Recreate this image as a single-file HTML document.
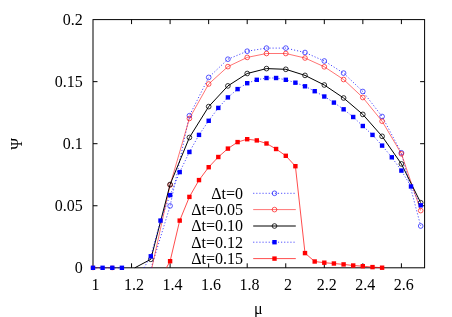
<!DOCTYPE html>
<html><head><meta charset="utf-8"><title>plot</title><style>html,body{margin:0;padding:0;background:#fff;overflow:hidden}svg{display:block;will-change:transform}</style></head><body>
<svg width="452" height="317" viewBox="0 0 452 317">
<rect width="452" height="317" fill="#fff"/>
<g stroke="#000" stroke-width="1" fill="none">
<rect x="93.0" y="19.6" width="331.6" height="248.20000000000002"/>
<path d="M131.55,267.8v-4.5M131.55,19.6v4.5"/>
<path d="M170.10,267.8v-4.5M170.10,19.6v4.5"/>
<path d="M208.65,267.8v-4.5M208.65,19.6v4.5"/>
<path d="M247.20,267.8v-4.5M247.20,19.6v4.5"/>
<path d="M285.75,267.8v-4.5M285.75,19.6v4.5"/>
<path d="M324.30,267.8v-4.5M324.30,19.6v4.5"/>
<path d="M362.85,267.8v-4.5M362.85,19.6v4.5"/>
<path d="M401.40,267.8v-4.5M401.40,19.6v4.5"/>
<path d="M93.0,205.75h4.5M424.6,205.75h-4.5"/>
<path d="M93.0,143.70h4.5M424.6,143.70h-4.5"/>
<path d="M93.0,81.65h4.5M424.6,81.65h-4.5"/>
</g>
<g font-family="Liberation Serif, serif" font-size="16px" fill="#000">
<text x="82.7" y="273.2" text-anchor="end">0</text>
<text x="82.7" y="211.2" text-anchor="end">0.05</text>
<text x="82.7" y="149.1" text-anchor="end">0.1</text>
<text x="82.7" y="87.1" text-anchor="end">0.15</text>
<text x="82.7" y="25.0" text-anchor="end">0.2</text>
<text x="95.4" y="290" text-anchor="middle">1</text>
<text x="133.9" y="290" text-anchor="middle">1.2</text>
<text x="172.5" y="290" text-anchor="middle">1.4</text>
<text x="211.1" y="290" text-anchor="middle">1.6</text>
<text x="249.6" y="290" text-anchor="middle">1.8</text>
<text x="288.1" y="290" text-anchor="middle">2</text>
<text x="326.7" y="290" text-anchor="middle">2.2</text>
<text x="365.3" y="290" text-anchor="middle">2.4</text>
<text x="403.8" y="290" text-anchor="middle">2.6</text>
<text x="258.4" y="313.8" text-anchor="middle">μ</text>
<text transform="translate(22.2,143.8) rotate(-90)" text-anchor="middle">Ψ</text>
<text x="243" y="198.6" text-anchor="end">Δt=0</text>
<text x="243" y="214.9" text-anchor="end">Δt=0.05</text>
<text x="243" y="231.3" text-anchor="end">Δt=0.10</text>
<text x="243" y="247.5" text-anchor="end">Δt=0.12</text>
<text x="243" y="263.9" text-anchor="end">Δt=0.15</text>
</g>
<polyline points="151.2,267.8 170.1,205.9 189.4,115.7 208.7,77.4 227.9,59.2 247.2,51.2 266.5,48.1 285.8,48.1 305.0,52.5 324.3,61.0 343.6,73.1 362.8,91.5 382.1,116.5 401.4,152.8 420.7,226.0" fill="none" stroke="#0000ff" stroke-width="0.75" stroke-dasharray="1.1 2.0"/>
<circle cx="170.1" cy="205.9" r="2.35" fill="none" stroke="#0000ff" stroke-width="0.65"/><circle cx="189.4" cy="115.7" r="2.35" fill="none" stroke="#0000ff" stroke-width="0.65"/><circle cx="208.7" cy="77.4" r="2.35" fill="none" stroke="#0000ff" stroke-width="0.65"/><circle cx="227.9" cy="59.2" r="2.35" fill="none" stroke="#0000ff" stroke-width="0.65"/><circle cx="247.2" cy="51.2" r="2.35" fill="none" stroke="#0000ff" stroke-width="0.65"/><circle cx="266.5" cy="48.1" r="2.35" fill="none" stroke="#0000ff" stroke-width="0.65"/><circle cx="285.8" cy="48.1" r="2.35" fill="none" stroke="#0000ff" stroke-width="0.65"/><circle cx="305.0" cy="52.5" r="2.35" fill="none" stroke="#0000ff" stroke-width="0.65"/><circle cx="324.3" cy="61.0" r="2.35" fill="none" stroke="#0000ff" stroke-width="0.65"/><circle cx="343.6" cy="73.1" r="2.35" fill="none" stroke="#0000ff" stroke-width="0.65"/><circle cx="362.8" cy="91.5" r="2.35" fill="none" stroke="#0000ff" stroke-width="0.65"/><circle cx="382.1" cy="116.5" r="2.35" fill="none" stroke="#0000ff" stroke-width="0.65"/><circle cx="401.4" cy="152.8" r="2.35" fill="none" stroke="#0000ff" stroke-width="0.65"/><circle cx="420.7" cy="226.0" r="2.35" fill="none" stroke="#0000ff" stroke-width="0.65"/>
<polyline points="151.9,267.8 170.1,185.0 189.4,118.5 208.7,84.0 227.9,66.6 247.2,57.4 266.5,53.5 285.8,53.5 305.0,58.0 324.3,66.8 343.6,79.5 362.8,97.5 382.1,121.2 401.4,153.8 420.7,210.6" fill="none" stroke="#ff0000" stroke-width="0.55"/>
<circle cx="170.1" cy="185.0" r="2.35" fill="none" stroke="#ff0000" stroke-width="0.65"/><circle cx="189.4" cy="118.5" r="2.35" fill="none" stroke="#ff0000" stroke-width="0.65"/><circle cx="208.7" cy="84.0" r="2.35" fill="none" stroke="#ff0000" stroke-width="0.65"/><circle cx="227.9" cy="66.6" r="2.35" fill="none" stroke="#ff0000" stroke-width="0.65"/><circle cx="247.2" cy="57.4" r="2.35" fill="none" stroke="#ff0000" stroke-width="0.65"/><circle cx="266.5" cy="53.5" r="2.35" fill="none" stroke="#ff0000" stroke-width="0.65"/><circle cx="285.8" cy="53.5" r="2.35" fill="none" stroke="#ff0000" stroke-width="0.65"/><circle cx="305.0" cy="58.0" r="2.35" fill="none" stroke="#ff0000" stroke-width="0.65"/><circle cx="324.3" cy="66.8" r="2.35" fill="none" stroke="#ff0000" stroke-width="0.65"/><circle cx="343.6" cy="79.5" r="2.35" fill="none" stroke="#ff0000" stroke-width="0.65"/><circle cx="362.8" cy="97.5" r="2.35" fill="none" stroke="#ff0000" stroke-width="0.65"/><circle cx="382.1" cy="121.2" r="2.35" fill="none" stroke="#ff0000" stroke-width="0.65"/><circle cx="401.4" cy="153.8" r="2.35" fill="none" stroke="#ff0000" stroke-width="0.65"/><circle cx="420.7" cy="210.6" r="2.35" fill="none" stroke="#ff0000" stroke-width="0.65"/>
<polyline points="134.8,267.8 150.8,259.3 170.1,184.5 189.4,137.5 208.7,106.6 227.9,85.9 247.2,73.5 266.5,68.6 285.8,69.3 305.0,75.4 324.3,85.0 343.6,98.0 362.8,114.4 382.1,136.3 401.4,163.9 420.7,202.7" fill="none" stroke="#000000" stroke-width="1"/>
<circle cx="150.8" cy="259.3" r="2.35" fill="none" stroke="#000000" stroke-width="0.8"/><circle cx="170.1" cy="184.5" r="2.35" fill="none" stroke="#000000" stroke-width="0.8"/><circle cx="189.4" cy="137.5" r="2.35" fill="none" stroke="#000000" stroke-width="0.8"/><circle cx="208.7" cy="106.6" r="2.35" fill="none" stroke="#000000" stroke-width="0.8"/><circle cx="227.9" cy="85.9" r="2.35" fill="none" stroke="#000000" stroke-width="0.8"/><circle cx="247.2" cy="73.5" r="2.35" fill="none" stroke="#000000" stroke-width="0.8"/><circle cx="266.5" cy="68.6" r="2.35" fill="none" stroke="#000000" stroke-width="0.8"/><circle cx="285.8" cy="69.3" r="2.35" fill="none" stroke="#000000" stroke-width="0.8"/><circle cx="305.0" cy="75.4" r="2.35" fill="none" stroke="#000000" stroke-width="0.8"/><circle cx="324.3" cy="85.0" r="2.35" fill="none" stroke="#000000" stroke-width="0.8"/><circle cx="343.6" cy="98.0" r="2.35" fill="none" stroke="#000000" stroke-width="0.8"/><circle cx="362.8" cy="114.4" r="2.35" fill="none" stroke="#000000" stroke-width="0.8"/><circle cx="382.1" cy="136.3" r="2.35" fill="none" stroke="#000000" stroke-width="0.8"/><circle cx="401.4" cy="163.9" r="2.35" fill="none" stroke="#000000" stroke-width="0.8"/><circle cx="420.7" cy="202.7" r="2.35" fill="none" stroke="#000000" stroke-width="0.8"/>
<path d="M93.0,267.8H112.3" stroke="#ff0000" stroke-width="0.55" fill="none" opacity="0.4"/>
<g opacity="0.5"><circle cx="93.0" cy="267.8" r="2.2" fill="none" stroke="#ff0000" stroke-width="0.65"/><circle cx="112.3" cy="267.8" r="2.2" fill="none" stroke="#ff0000" stroke-width="0.65"/></g>
<polyline points="93.0,267.8 102.6,267.8 112.3,267.8 121.9,267.8" fill="none" stroke="#0000ff" stroke-width="0.75" stroke-dasharray="1.1 2.0"/>
<polyline points="144.0,267.8 150.8,256.3 160.5,220.6 170.1,195.1 179.7,172.1 189.4,152.0 199.0,134.9 208.7,120.8 218.3,107.9 227.9,97.4 237.6,89.1 247.2,83.2 256.8,79.8 266.5,78.0 276.1,78.0 285.8,79.8 295.4,82.7 305.0,86.3 314.7,91.2 324.3,96.5 333.9,102.6 343.6,109.3 353.2,117.0 362.8,126.0 372.5,134.9 382.1,145.6 391.8,157.3 401.4,170.6 411.0,186.5 420.7,205.3" fill="none" stroke="#0000ff" stroke-width="0.75" stroke-dasharray="1.1 2.0"/>
<rect x="90.8" y="265.6" width="4.4" height="4.4" fill="#0000ff"/><rect x="100.4" y="265.6" width="4.4" height="4.4" fill="#0000ff"/><rect x="110.1" y="265.6" width="4.4" height="4.4" fill="#0000ff"/><rect x="119.7" y="265.6" width="4.4" height="4.4" fill="#0000ff"/><rect x="148.6" y="254.1" width="4.4" height="4.4" fill="#0000ff"/><rect x="158.3" y="218.4" width="4.4" height="4.4" fill="#0000ff"/><rect x="167.9" y="192.9" width="4.4" height="4.4" fill="#0000ff"/><rect x="177.5" y="169.9" width="4.4" height="4.4" fill="#0000ff"/><rect x="187.2" y="149.8" width="4.4" height="4.4" fill="#0000ff"/><rect x="196.8" y="132.7" width="4.4" height="4.4" fill="#0000ff"/><rect x="206.5" y="118.6" width="4.4" height="4.4" fill="#0000ff"/><rect x="216.1" y="105.7" width="4.4" height="4.4" fill="#0000ff"/><rect x="225.7" y="95.2" width="4.4" height="4.4" fill="#0000ff"/><rect x="235.4" y="86.9" width="4.4" height="4.4" fill="#0000ff"/><rect x="245.0" y="81.0" width="4.4" height="4.4" fill="#0000ff"/><rect x="254.6" y="77.6" width="4.4" height="4.4" fill="#0000ff"/><rect x="264.3" y="75.8" width="4.4" height="4.4" fill="#0000ff"/><rect x="273.9" y="75.8" width="4.4" height="4.4" fill="#0000ff"/><rect x="283.6" y="77.6" width="4.4" height="4.4" fill="#0000ff"/><rect x="293.2" y="80.5" width="4.4" height="4.4" fill="#0000ff"/><rect x="302.8" y="84.1" width="4.4" height="4.4" fill="#0000ff"/><rect x="312.5" y="89.0" width="4.4" height="4.4" fill="#0000ff"/><rect x="322.1" y="94.3" width="4.4" height="4.4" fill="#0000ff"/><rect x="331.7" y="100.4" width="4.4" height="4.4" fill="#0000ff"/><rect x="341.4" y="107.1" width="4.4" height="4.4" fill="#0000ff"/><rect x="351.0" y="114.8" width="4.4" height="4.4" fill="#0000ff"/><rect x="360.6" y="123.8" width="4.4" height="4.4" fill="#0000ff"/><rect x="370.3" y="132.7" width="4.4" height="4.4" fill="#0000ff"/><rect x="379.9" y="143.4" width="4.4" height="4.4" fill="#0000ff"/><rect x="389.6" y="155.1" width="4.4" height="4.4" fill="#0000ff"/><rect x="399.2" y="168.4" width="4.4" height="4.4" fill="#0000ff"/><rect x="408.8" y="184.3" width="4.4" height="4.4" fill="#0000ff"/><rect x="418.5" y="203.1" width="4.4" height="4.4" fill="#0000ff"/>
<polyline points="166.4,267.8 170.1,261.2 179.7,220.6 189.4,196.9 199.0,180.1 208.7,167.2 218.3,157.0 227.9,148.6 237.6,142.1 247.2,139.2 256.8,140.4 266.5,143.5 276.1,149.0 285.8,155.8 295.4,166.2 305.0,253.1 314.7,261.5 324.3,262.7 333.9,263.5 343.6,264.4 353.2,265.5 362.8,266.2 372.5,267.1 382.1,267.7" fill="none" stroke="#ff0000" stroke-width="0.7"/>
<rect x="167.9" y="259.0" width="4.4" height="4.4" fill="#ff0000"/><rect x="177.5" y="218.4" width="4.4" height="4.4" fill="#ff0000"/><rect x="187.2" y="194.7" width="4.4" height="4.4" fill="#ff0000"/><rect x="196.8" y="177.9" width="4.4" height="4.4" fill="#ff0000"/><rect x="206.5" y="165.0" width="4.4" height="4.4" fill="#ff0000"/><rect x="216.1" y="154.8" width="4.4" height="4.4" fill="#ff0000"/><rect x="225.7" y="146.4" width="4.4" height="4.4" fill="#ff0000"/><rect x="235.4" y="139.9" width="4.4" height="4.4" fill="#ff0000"/><rect x="245.0" y="137.0" width="4.4" height="4.4" fill="#ff0000"/><rect x="254.6" y="138.2" width="4.4" height="4.4" fill="#ff0000"/><rect x="264.3" y="141.3" width="4.4" height="4.4" fill="#ff0000"/><rect x="273.9" y="146.8" width="4.4" height="4.4" fill="#ff0000"/><rect x="283.6" y="153.6" width="4.4" height="4.4" fill="#ff0000"/><rect x="293.2" y="164.0" width="4.4" height="4.4" fill="#ff0000"/><rect x="302.8" y="250.9" width="4.4" height="4.4" fill="#ff0000"/><rect x="312.5" y="259.3" width="4.4" height="4.4" fill="#ff0000"/><rect x="322.1" y="260.5" width="4.4" height="4.4" fill="#ff0000"/><rect x="331.7" y="261.3" width="4.4" height="4.4" fill="#ff0000"/><rect x="341.4" y="262.2" width="4.4" height="4.4" fill="#ff0000"/><rect x="351.0" y="263.3" width="4.4" height="4.4" fill="#ff0000"/><rect x="360.6" y="264.0" width="4.4" height="4.4" fill="#ff0000"/><rect x="370.3" y="264.9" width="4.4" height="4.4" fill="#ff0000"/><rect x="379.9" y="265.5" width="4.4" height="4.4" fill="#ff0000"/>
<path d="M253.2,193.3H295.8" stroke="#0000ff" stroke-width="0.75" stroke-dasharray="1.1 2.0"/><circle cx="274.5" cy="193.3" r="2.35" fill="none" stroke="#0000ff" stroke-width="0.65"/>
<path d="M253.2,209.6H295.8" stroke="#ff0000" stroke-width="0.55"/><circle cx="274.5" cy="209.6" r="2.35" fill="none" stroke="#ff0000" stroke-width="0.65"/>
<path d="M253.2,226H295.8" stroke="#000000" stroke-width="1"/><circle cx="274.5" cy="226.0" r="2.35" fill="none" stroke="#000000" stroke-width="0.8"/>
<path d="M253.2,242.2H295.8" stroke="#0000ff" stroke-width="0.75" stroke-dasharray="1.1 2.0"/><rect x="272.3" y="240.0" width="4.4" height="4.4" fill="#0000ff"/>
<path d="M253.2,258.6H295.8" stroke="#ff0000" stroke-width="0.7"/><rect x="272.3" y="256.4" width="4.4" height="4.4" fill="#ff0000"/>
</svg>
</body></html>
